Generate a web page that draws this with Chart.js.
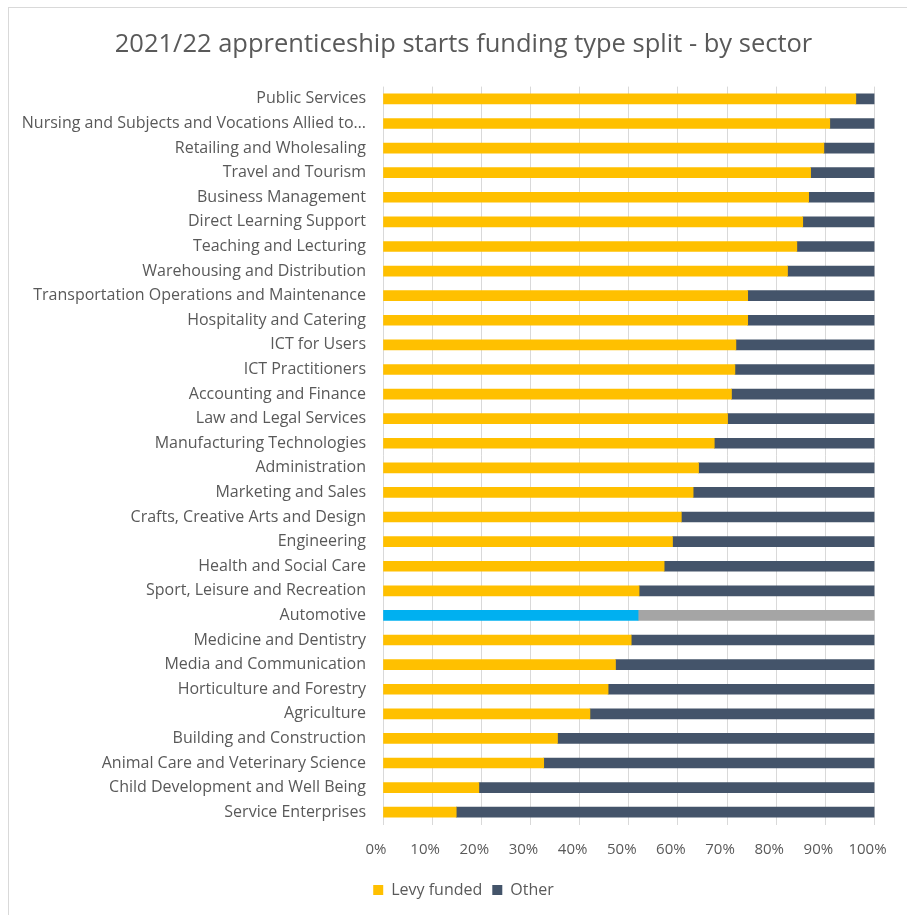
<!DOCTYPE html>
<html>
<head>
<meta charset="utf-8">
<script src="https://cdn.jsdelivr.net/npm/chart.js@4"></script>
<style>
  html, body { margin: 0; padding: 0; background: #ffffff; }
  #wrap { position: relative; width: 907px; height: 915px; }
  #frame { position: absolute; left: 8px; top: 7px; right: 0; bottom: 0;
           border-top: 1px solid #D9D9D9; border-left: 1px solid #D9D9D9; pointer-events: none; }
  canvas { position: absolute; left: 0; top: 0; }
</style>
</head>
<body>
<div id="wrap">
  <canvas id="c" width="907" height="915"></canvas>
  <div id="frame"></div>
</div>
<script>
const categories = [
  "Public Services",
  "Nursing and Subjects and Vocations Allied to…",
  "Retailing and Wholesaling",
  "Travel and Tourism",
  "Business Management",
  "Direct Learning Support",
  "Teaching and Lecturing",
  "Warehousing and Distribution",
  "Transportation Operations and Maintenance",
  "Hospitality and Catering",
  "ICT for Users",
  "ICT Practitioners",
  "Accounting and Finance",
  "Law and Legal Services",
  "Manufacturing Technologies",
  "Administration",
  "Marketing and Sales",
  "Crafts, Creative Arts and Design",
  "Engineering",
  "Health and Social Care",
  "Sport, Leisure and Recreation",
  "Automotive",
  "Medicine and Dentistry",
  "Media and Communication",
  "Horticulture and Forestry",
  "Agriculture",
  "Building and Construction",
  "Animal Care and Veterinary Science",
  "Child Development and Well Being",
  "Service Enterprises"
];
const levyFunded = [
  96.2, 90.9, 89.7, 87.0, 86.6, 85.4, 84.2, 82.3, 74.2, 74.2,
  71.8, 71.6, 70.9, 70.1, 67.4, 64.2, 63.1, 60.7, 58.9, 57.2,
  52.1, 51.9, 50.5, 47.3, 45.8, 42.1, 35.5, 32.7, 19.5, 14.9
];
const other = [
  3.8, 9.1, 10.3, 13.0, 13.4, 14.6, 15.8, 17.7, 25.8, 25.8,
  28.2, 28.4, 29.1, 29.9, 32.6, 35.8, 36.9, 39.3, 41.1, 42.8,
  47.9, 48.1, 49.5, 52.7, 54.2, 57.9, 64.5, 67.3, 80.5, 85.1
];
const xTickValues = [0, 10, 20, 30, 40, 50, 60, 70, 80, 90, 100];
const highlighted = "Automotive";

const FONT = "'Open Sans', sans-serif";
const TXT = "#595959";
const levyColors = categories.map(c => c === highlighted ? "#00B0F0" : "#FFC000");
const otherColors = categories.map(c => c === highlighted ? "#A5A5A5" : "#44546A");

new Chart(document.getElementById("c"), {
  type: "bar",
  data: {
    labels: categories,
    datasets: [
      { label: "Levy funded", data: levyFunded, backgroundColor: levyColors, barThickness: 10 },
      { label: "Other", data: other, backgroundColor: otherColors, barThickness: 10 }
    ]
  },
  options: {
    indexAxis: "y",
    responsive: false,
    animation: false,
    layout: { padding: { top: 10, right: 0, bottom: 7, left: 20 } },
    scales: {
      x: {
        stacked: true,
        min: 0, max: 100,
        afterBuildTicks: s => { s.ticks = xTickValues.map(v => ({ value: v })); },
        afterFit: s => { s.height = 47.5; },
        grid: { color: "#D9D9D9", drawTicks: true, tickLength: 12, tickColor: "rgba(0,0,0,0)" },
        border: { display: false },
        ticks: { color: TXT, font: { family: FONT, size: 15 }, padding: 4, labelOffset: -7,
                 callback: v => v + "%" }
      },
      y: {
        stacked: true,
        afterFit: s => { s.width = 363; },
        grid: { display: false, drawTicks: false },
        border: { display: false },
        ticks: { color: TXT, font: { family: FONT, size: 16 }, padding: 17, autoSkip: false }
      },
      yRight: {
        type: "linear",
        position: "right",
        display: true,
        afterFit: s => { s.width = 32.5; },
        grid: { display: false, drawTicks: false },
        border: { display: false },
        ticks: { display: false }
      }
    },
    plugins: {
      title: {
        display: true,
        text: "2021/22 apprenticeship starts funding type split - by sector",
        color: TXT,
        font: { family: FONT, size: 25.5, weight: "normal" },
        padding: { top: 19, bottom: 27 }
      },
      legend: {
        position: "bottom",
        align: "center",
        labels: {
          color: TXT,
          font: { family: FONT, size: 16 },
          boxWidth: 10, boxHeight: 10, padding: 10,
          generateLabels: chart => chart.data.datasets.map((d, i) => ({
            text: d.label,
            fillStyle: i === 0 ? "#FFC000" : "#44546A",
            strokeStyle: i === 0 ? "#FFC000" : "#44546A",
            lineWidth: 0,
            datasetIndex: i,
            fontColor: TXT
          }))
        }
      },
      tooltip: { enabled: false }
    }
  }
});
</script>
</body>
</html>
